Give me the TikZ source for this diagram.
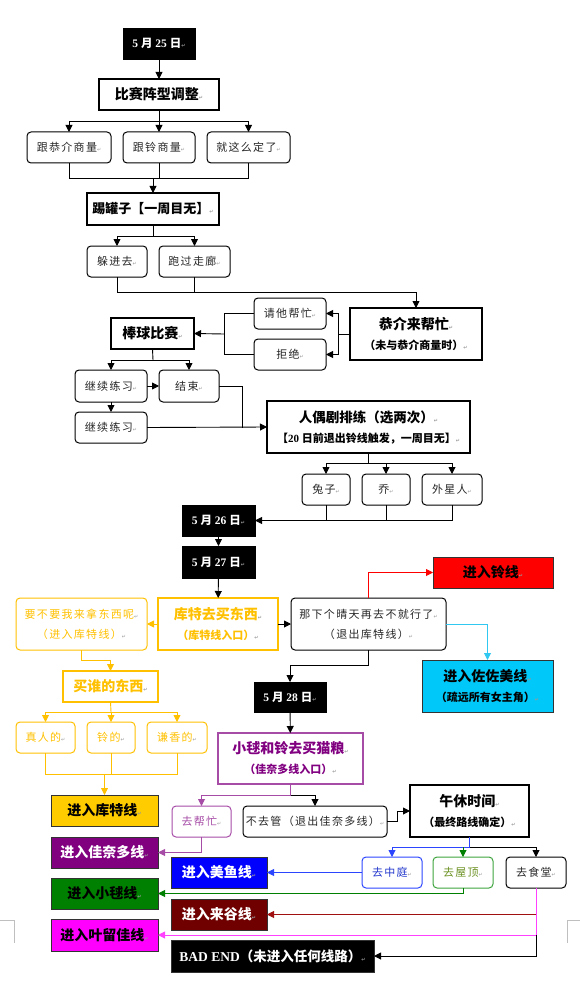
\documentclass[tikz,border=0pt]{standalone}
\usepackage{fontspec}
\setmainfont{Liberation Serif}
\newfontfamily\cjk{Noto Sans CJK SC}
\newfontfamily\cjkk[LetterSpace=12]{Noto Sans CJK SC}
\newfontfamily\djv{DejaVu Sans}
\usetikzlibrary{arrows.meta}
\definecolor{kgold}{HTML}{FFC000}
\definecolor{kfill}{HTML}{FFCC00}
\definecolor{kpur}{HTML}{800080}
\definecolor{kpurb}{HTML}{A64CA6}
\definecolor{kblue}{HTML}{0000FF}
\definecolor{kblueb}{HTML}{2B45FF}
\definecolor{kgreen}{HTML}{008000}
\definecolor{kgreenb}{HTML}{3DA33D}
\definecolor{kolive}{HTML}{6A9020}
\definecolor{kdred}{HTML}{700000}
\definecolor{kdredl}{HTML}{A01010}
\definecolor{kmag}{HTML}{FF00FF}
\definecolor{kmagl}{HTML}{FF40FF}
\definecolor{kcyan}{HTML}{00C8F8}
\definecolor{kcyanl}{HTML}{30C8F0}
\newcommand\fz[1]{\fontsize{#1}{#1}\selectfont}
\newcommand\pmk{{\djv\fontsize{5}{5}\selectfont\textcolor{black!40}{↵}}}
\newcommand\bigt[1]{{\cjk\bfseries\fz{14}#1\pmk}}
\newcommand\subt[1]{{\cjk\bfseries\fz{11}#1\pmk}}
\newcommand\kai[1]{{\cjkk\fz{11}#1\pmk}}
\newcommand\dat[1]{{\fz{11.5}\bfseries 5 {\cjk 月} #1 {\cjk 日}\pmk}}
\newcommand\mybox[6]{\node[#1,anchor=north west,minimum width={(#4-#2)*1pt},minimum height={(#5-#3)*1pt}] (#6) at (#2,#3)}
\tikzset{
  base/.style={inner sep=0pt, outer sep=0pt, align=center, font=\fontsize{11}{20}\selectfont},
  sq/.style={base, draw, line width=1.2pt},
  rd/.style={base, draw, line width=1pt, rounded corners=4pt, text=black!85},
  datebox/.style={base, fill=black, draw=black, text=white},
  fl/.style={base, draw=black!80, line width=0.8pt, fill=#1},
  arr/.style={-{Triangle[length=7pt,width=7pt]}, line width=0.9pt},
  ln/.style={line width=0.9pt},
}
\begin{document}
\begin{tikzpicture}[x=1pt,y=-1pt]
\useasboundingbox (0,0) rectangle (580,992);
% boxes
\mybox{datebox}{123}{28}{195}{59}{d25}{\dat{25}};
\mybox{sq}{99}{79}{219}{110}{tzz}{\bigt{比赛阵型调整}};
\mybox{rd}{27}{132}{111}{163}{c1}{\kai{跟恭介商量}};
\mybox{rd}{123}{132}{195}{163}{c2}{\kai{跟铃商量}};
\mybox{rd}{207}{132}{290}{163}{c3}{\kai{就这么定了}};
\mybox{sq}{87}{193}{219}{225}{tgz}{{\cjk\bfseries\fz{13}踢罐子【一周目无】\pmk}};
\mybox{rd}{87}{246}{147}{277}{d1}{\kai{躲进去}};
\mybox{rd}{159}{246}{230}{277}{d2}{\kai{跑过走廊}};
\mybox{rd}{254}{298}{326}{329}{qt}{\kai{请他帮忙}};
\mybox{rd}{254}{339}{326}{370}{jj}{\kai{拒绝}};
\mybox{sq}{350}{308}{482}{360}{gj}{\bigt{恭介来帮忙}\\\subt{（未与恭介商量时）}};
\mybox{sq}{111}{318}{194}{349}{bq}{\bigt{棒球比赛}};
\mybox{rd}{75}{370}{147}{402}{l1}{\kai{继续练习}};
\mybox{rd}{159}{370}{219}{402}{js}{\kai{结束}};
\mybox{rd}{75}{412}{147}{443}{l2}{\kai{继续练习}};
\mybox{sq}{267}{401}{470}{453}{rj}{{\cjk\bfseries\fz{13.5}人偶剧排练（选两次）\pmk}\\{\fz{11}\bfseries{\cjk 【}20 {\cjk 日前退出铃线触发，一周目无】}\pmk}};
\mybox{rd}{302}{474}{350}{505}{tz}{\kai{兔子}};
\mybox{rd}{362}{474}{410}{505}{qq}{\kai{乔}};
\mybox{rd}{422}{474}{482}{505}{ww}{\kai{外星人}};
\mybox{datebox}{182}{505}{255}{536}{d26}{\dat{26}};
\mybox{datebox}{182}{546}{255}{578}{d27}{\dat{27}};
\mybox{sq,draw=kgold,text=kgold}{158}{598}{278}{650}{kt}{\bigt{库特去买东西}\\\subt{（库特线入口）}};
\mybox{rd,draw=kgold,text=kgold}{16}{598}{147}{650}{yb}{\kai{要不要我来拿东西呢}\\\kai{（进入库特线）}};
\mybox{rd}{291}{598}{446}{650}{nx}{\kai{那下个晴天再去不就行了}\\\kai{（退出库特线）}};
\mybox{fl=red}{433}{557}{553}{588}{lx}{\bigt{进入铃线}};
\mybox{fl=kcyan}{422}{660}{553}{712}{zz}{\bigt{进入佐佐美线}\\\subt{（疏远所有女主角）}};
\mybox{datebox}{254}{682}{326}{712}{d28}{\dat{28}};
\mybox{sq,draw=kgold,text=kgold}{63}{671}{158}{702}{mc}{\bigt{买谁的东西}};
\mybox{rd,draw=kgold,text=kgold}{16}{722}{75}{753}{zr}{\kai{真人的}};
\mybox{rd,draw=kgold,text=kgold}{87}{722}{135}{753}{ll}{\kai{铃的}};
\mybox{rd,draw=kgold,text=kgold}{147}{722}{207}{753}{qx}{\kai{谦香的}};
\mybox{fl=kfill}{51}{795}{158}{826}{kx}{\bigt{进入库特线}};
\mybox{sq,draw=kpurb,text=kpur}{218}{733}{363}{784}{xm}{\bigt{小毬和铃去买猫粮}\\\subt{（佳奈多线入口）}};
\mybox{rd,draw=kpurb,text=kpurb}{172}{806}{231}{837}{bm}{\kai{去帮忙}};
\mybox{rd}{243}{806}{387}{837}{bg}{\kai{不去管（退出佳奈多线）}};
\mybox{sq}{410}{785}{529}{837}{wx}{\bigt{午休时间}\\\subt{（最终路线确定）}};
\mybox{rd,draw=kblueb,text=kblueb!80!black}{362}{857}{422}{888}{zt}{\kai{去中庭}};
\mybox{rd,draw=kgreenb,text=kolive}{433}{857}{493}{888}{wd}{\kai{去屋顶}};
\mybox{rd}{506}{857}{566}{888}{st}{\kai{去食堂}};
\mybox{fl=kpur,text=white}{51}{837}{158}{868}{jn}{\bigt{进入佳奈多线}};
\mybox{fl=kgreen}{51}{878}{158}{909}{xq}{\bigt{进入小毬线}};
\mybox{fl=kmag}{51}{919}{158}{951}{yl}{\bigt{进入叶留佳线}};
\mybox{fl=kblue,text=white}{171}{857}{267}{888}{my}{\bigt{进入美鱼线}};
\mybox{fl=kdred,text=white}{171}{899}{267}{930}{lg}{\bigt{进入来谷线}};
\mybox{fl=black,text=white}{171}{940}{374}{972}{bad}{{\fz{13.5}\bfseries BAD END{\cjk （未进入任何线路）}\pmk}};
% junctions
\coordinate (j1) at (159,121);
\coordinate (j2) at (153,178);
\coordinate (j3) at (153,236);
\coordinate (j4) at (416,292);
\coordinate (j5) at (338,334);
\coordinate (j6) at (224,334);
\coordinate (j7) at (153,360);
\coordinate (j8) at (242,427.5);
\coordinate (j9) at (368.5,463);
\coordinate (j11) at (111,712);
\coordinate (j12) at (104.5,774);
\coordinate (j13) at (290.5,795);
\coordinate (j14) at (469.5,847);
% connectors
\draw[arr] (d25) -- (tzz);
\draw[ln] (tzz.south) -- (j1);
\draw[arr] (j1) -| (c1.north);
\draw[arr] (j1) -- (c2.north);
\draw[arr] (j1) -| (c3.north);
\draw[ln] (c1.south) |- (j2);
\draw[ln] (c3.south) |- (j2);
\draw[ln] (c2.south) -- (c2.south |- j2);
\draw[arr] (j2) -- (tgz.north);
\draw[ln] (tgz.south) -- (j3);
\draw[arr] (j3) -| (d1.north);
\draw[arr] (j3) -| (d2.north);
\draw[ln] (d1.south) |- (j4);
\draw[ln] (d2.south) -- (d2.south |- j4);
\draw[arr] (j4) -- (gj.north);
\draw[ln] (gj.west) -- (j5);
\draw[arr] (j5) |- (qt.east);
\draw[arr] (j5) |- (jj.east);
\draw[ln] (qt.west) -| (j6);
\draw[ln] (jj.west) -| (j6);
\draw[arr] (j6) -- (bq.east);
\draw[ln] (bq.south) -- (j7);
\draw[arr] (j7) -| (l1.north);
\draw[arr] (j7) -| (js.north);
\draw[arr] (l1.east) -- (js.west);
\draw[arr] (l1.south) -- (l2.north);
\draw[ln] (js.east) -| (j8);
\draw[arr] (l2.east) -- (rj.west);
\draw[ln] (rj.south) -- (j9);
\draw[arr] (j9) -| (tz.north);
\draw[arr] (j9) -| (qq.north);
\draw[arr] (j9) -| (ww.north);
\draw[arr] (ww.south) |- (d26.east);
\draw[ln] (tz.south) -- (tz.south |- d26.east);
\draw[ln] (qq.south) -- (qq.south |- d26.east);
\draw[arr] (d26) -- (d27);
\draw[arr] (d27) -- (kt);
\draw[arr,kgold] (kt.west) -- (yb.east);
\draw[arr] (kt.east) -- (nx.west);
\draw[arr,kgold] (yb.south) -- ++(0,10) -| (mc.north);
\draw[ln,kgold] (mc.south) -- (j11);
\draw[arr,kgold] (j11) -| (zr.north);
\draw[arr,kgold] (j11) -- (ll.north);
\draw[arr,kgold] (j11) -| (qx.north);
\draw[ln,kgold] (zr.south) |- (j12);
\draw[ln,kgold] (qx.south) |- (j12);
\draw[ln,kgold] (ll.south) -- (ll.south |- j12);
\draw[arr,kgold] (j12) -- (kx.north);
\draw[arr,red] (nx.north) |- (lx.west);
\draw[arr,kcyanl] (nx.east) -| (zz.north);
\draw[arr] (nx.south) -- ++(0,15) -| (d28.north);
\draw[arr] (d28) -- (xm);
\draw[ln,kpurb] (xm.south) -- (j13);
\draw[arr,kpurb] (j13) -| (bm.north);
\draw[arr] (j13) -| (bg.north);
\draw[arr] (bg.east) -- ++(10,0) |- (wx.west);
\draw[arr,kpurb] (bm.south) |- (jn.east);
\draw[ln,kblueb] (wx.south) -- (j14);
\draw[arr,kblueb] (j14) -| (zt.north);
\draw[arr] (j14) -| (st.north);
\draw[arr,kgreen] (wd.north |- j14) -- (wd.north);
\draw[arr,kblueb] (zt.west) -- (my.east);
\draw[arr,kgreen] (wd.south) |- (xq.east);
\draw[arr,kmagl] (st.south) |- (yl.east);
\draw[arr,kdredl] (st.south |- lg.east) -- (lg.east);
\draw[arr] (st.south |- yl.east) |- (bad.east);
% page corner marks
\draw[black!25,line width=0.7pt] (0,920) -- (14,920) -- (14,943);
\draw[black!25,line width=0.7pt] (580,920) -- (567,920) -- (567,943);
\end{tikzpicture}
\end{document}
